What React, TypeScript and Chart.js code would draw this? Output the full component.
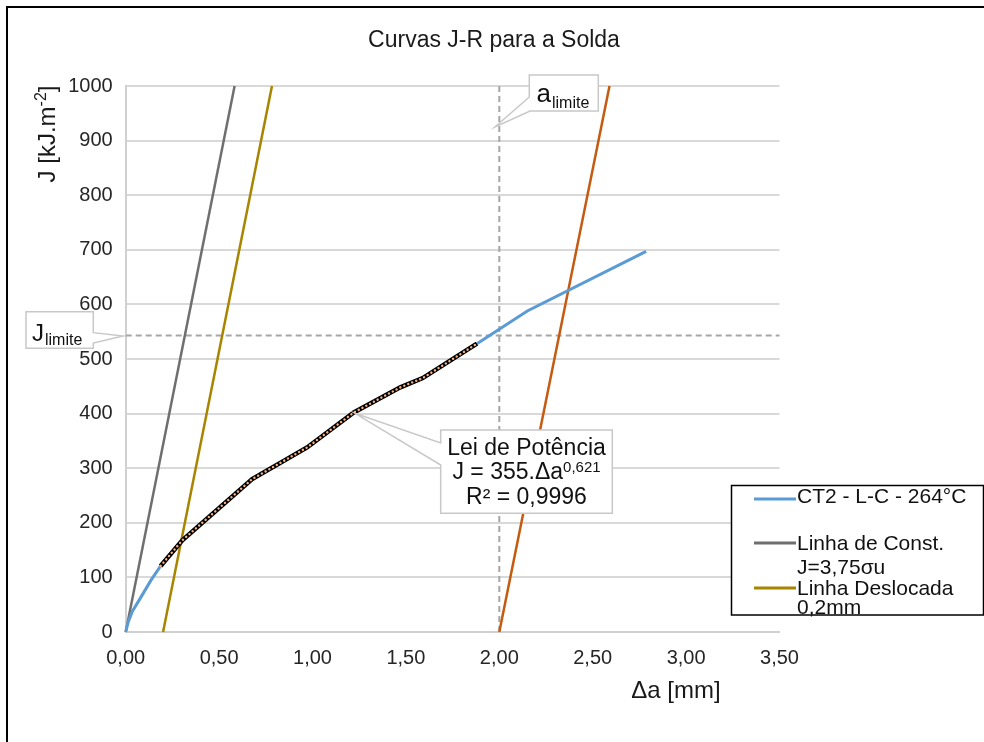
import { useEffect, useRef } from "react";
import { Chart, registerables } from "chart.js";

Chart.register(...registerables);

// ---- data ----
const blueA = [0, 0.014, 0.036, 0.08, 0.134, 0.187, 0.303, 0.677, 0.971, 1.221, 1.47, 1.59, 1.88, 2.15, 2.786];
const blueJ = [0, 19, 38, 63, 94, 121, 168, 280, 338, 402, 448, 465, 528, 588, 697];

const fitA = [0.187, 0.303, 0.677, 0.971, 1.221, 1.47, 1.59, 1.88];
const fitJ = [121, 168, 280, 338, 402, 448, 465, 528];

const constA = [0, 0.583];
const constJ = [0, 1000];
const offsetA = [0.2, 0.783];
const offsetJ = [0, 1000];
const limitLineA = [2.0, 2.59];
const limitLineJ = [0, 1000];

const jLimite = 543;
const aLimite = 2.0;
const xRange = [0, 3.5];
const yRange = [0, 1000];

const legendLabels = [["CT2 - L-C - 264°C"], ["Linha de Const.", "J=3,75σu"], ["Linha Deslocada", "0,2mm"]];

const FONT = '"Liberation Sans", Arial, sans-serif';
const f = (s: number) => `${s}px ${FONT}`;

const pts = (xs: number[], ys: number[]) => xs.map((x, i) => ({ x, y: ys[i] }));

const COLORS = {
  blue: "#5b9bd5",
  gray: "#6f6f6f",
  gold: "#a88400",
  orange: "#c55a11",
  dash: "#a6a6a6",
};

const overlay = {
  id: "overlay",
  afterDraw(chart: any) {
    const ctx: CanvasRenderingContext2D = chart.ctx;
    ctx.save();

    // outer frame (left & top visible)
    ctx.strokeStyle = "#000";
    ctx.lineWidth = 2;
    ctx.beginPath();
    ctx.moveTo(7, 742);
    ctx.lineTo(7, 7);
    ctx.lineTo(984, 7);
    ctx.stroke();

    ctx.fillStyle = "#1a1a1a";
    // title
    ctx.font = f(23);
    ctx.textAlign = "center";
    ctx.textBaseline = "alphabetic";
    ctx.fillText("Curvas J-R para a Solda", 494, 47);

    // x axis title
    ctx.font = f(24);
    ctx.fillText("Δa [mm]", 676, 698);

    // y axis title (rotated)
    {
      ctx.font = f(24);
      const p1 = "J [kJ.m";
      const w1 = ctx.measureText(p1).width;
      ctx.font = f(16);
      const p2 = "-2";
      const w2 = ctx.measureText(p2).width;
      ctx.font = f(24);
      const p3 = "]";
      const w3 = ctx.measureText(p3).width;
      const total = w1 + w2 + w3;
      ctx.save();
      ctx.translate(55, 134 + total / 2);
      ctx.rotate(-Math.PI / 2);
      ctx.textAlign = "left";
      ctx.font = f(24);
      ctx.fillText(p1, 0, 0);
      ctx.font = f(16);
      ctx.fillText(p2, w1, -9);
      ctx.font = f(24);
      ctx.fillText(p3, w1 + w2, 0);
      ctx.restore();
    }

    // callout helper
    const callout = (poly: number[][]) => {
      ctx.beginPath();
      poly.forEach(([x, y], i) => (i ? ctx.lineTo(x, y) : ctx.moveTo(x, y)));
      ctx.closePath();
      ctx.fillStyle = "#fff";
      ctx.fill();
      ctx.strokeStyle = "#c8c8c8";
      ctx.lineWidth = 1.5;
      ctx.stroke();
    };

    // Lei de Potência
    callout([
      [440.7, 430],
      [612.3, 430],
      [612.3, 513.3],
      [440.7, 513.3],
      [440.7, 465],
      [355, 413.3],
      [440.7, 443],
    ]);
    ctx.fillStyle = "#111";
    ctx.textAlign = "center";
    ctx.font = f(23);
    ctx.fillText("Lei de Potência", 526.5, 455);
    {
      ctx.font = f(23);
      const m = "J = 355.Δa";
      const wm = ctx.measureText(m).width;
      ctx.font = f(15);
      const s = "0,621";
      const ws = ctx.measureText(s).width;
      const x0 = 526.5 - (wm + ws) / 2;
      ctx.textAlign = "left";
      ctx.font = f(23);
      ctx.fillText(m, x0, 479);
      ctx.font = f(15);
      ctx.fillText(s, x0 + wm, 472);
    }
    ctx.textAlign = "center";
    ctx.font = f(23);
    ctx.fillText("R² = 0,9996", 526.5, 504);

    // a_limite
    callout([
      [529.3, 75],
      [598.3, 75],
      [598.3, 111],
      [530, 111],
      [495, 127],
      [529.3, 97],
    ]);
    ctx.fillStyle = "#111";
    ctx.textAlign = "left";
    ctx.font = f(26);
    ctx.fillText("a", 536.5, 102);
    const wa = ctx.measureText("a").width;
    ctx.font = f(16);
    ctx.fillText("limite", 536.5 + wa + 1, 108);

    // J_limite
    callout([
      [26, 311.7],
      [93.3, 311.7],
      [93.3, 332.7],
      [123, 336],
      [93.3, 343],
      [93.3, 348.3],
      [26, 348.3],
    ]);
    ctx.fillStyle = "#111";
    ctx.font = f(24);
    ctx.fillText("J", 32, 341);
    const wj = ctx.measureText("J").width;
    ctx.font = f(16);
    ctx.fillText("limite", 32 + wj + 1, 345);

    // legend
    ctx.fillStyle = "#fff";
    ctx.fillRect(731.5, 485.5, 252, 129.5);
    ctx.strokeStyle = "#000";
    ctx.lineWidth = 1.5;
    ctx.strokeRect(731.5, 485.5, 252, 129.5);
    const legendColors = [COLORS.blue, COLORS.gray, COLORS.gold];
    const sampleY = [499, 543, 588];
    const textY = [[503], [550, 574], [595, 614]];
    ctx.font = f(21);
    ctx.textAlign = "left";
    legendLabels.forEach((lines, i) => {
      ctx.strokeStyle = legendColors[i];
      ctx.lineWidth = 3;
      ctx.beginPath();
      ctx.moveTo(754, sampleY[i]);
      ctx.lineTo(796, sampleY[i]);
      ctx.stroke();
      ctx.fillStyle = "#111";
      lines.forEach((t, j) => ctx.fillText(t, 797, textY[i][j]));
    });

    ctx.restore();
  },
};

export default function App() {
  const ref = useRef<HTMLCanvasElement>(null);
  useEffect(() => {
    const base = { showLine: true, pointRadius: 0, tension: 0, clip: false as any, fill: false };
    const chart = new Chart(ref.current!, {
      type: "scatter",
      data: {
        datasets: [
          { ...base, label: "fitDots", data: pts(fitA, fitJ), borderColor: "#f4b183", borderWidth: 2.4, borderDash: [0.1, 4.2], borderCapStyle: "round", order: 0 },
          { ...base, label: "fit", data: pts(fitA, fitJ), borderColor: "#000", borderWidth: 4.5, order: 1 },
          { ...base, label: legendLabels[0][0], data: pts(blueA, blueJ), borderColor: COLORS.blue, borderWidth: 3, order: 2 },
          { ...base, label: "const", data: pts(constA, constJ), borderColor: COLORS.gray, borderWidth: 2.5, order: 3 },
          { ...base, label: "offset", data: pts(offsetA, offsetJ), borderColor: COLORS.gold, borderWidth: 2.5, order: 4 },
          { ...base, label: "limit", data: pts(limitLineA, limitLineJ), borderColor: COLORS.orange, borderWidth: 2.5, order: 5 },
          { ...base, label: "jlim", data: pts(xRange, [jLimite, jLimite]), borderColor: COLORS.dash, borderWidth: 2, borderDash: [6, 4], order: 6 },
          { ...base, label: "alim", data: pts([aLimite, aLimite], yRange), borderColor: COLORS.dash, borderWidth: 2, borderDash: [6, 4], order: 7 },
        ] as any,
      },
      options: {
        responsive: false,
        animation: false,
        devicePixelRatio: 1,
        layout: { padding: { left: 0, top: 86, right: 204.5, bottom: 0 } },
        plugins: { legend: { display: false }, title: { display: false }, tooltip: { enabled: false } },
        scales: {
          x: {
            type: "linear",
            min: xRange[0],
            max: xRange[1],
            ticks: {
              stepSize: 0.5,
              callback: (v: any) => Number(v).toFixed(2).replace(".", ","),
              font: { family: FONT, size: 20 },
              color: "#262626",
              padding: 14,
              maxRotation: 0,
              autoSkip: false,
            },
            grid: { display: true, color: "rgba(0,0,0,0)", drawTicks: false },
            border: { display: true, color: "#d0d0d0", width: 2 },
            afterFit: (s: any) => {
              s.height = 110;
            },
          },
          y: {
            type: "linear",
            min: yRange[0],
            max: yRange[1],
            ticks: {
              stepSize: 100,
              callback: (v: any) => String(v),
              font: { family: FONT, size: 20 },
              color: "#262626",
              padding: 13,
            },
            grid: { color: "#d9d9d9", lineWidth: 2, drawTicks: false },
            border: { display: true, color: "#d0d0d0", width: 2 },
            afterFit: (s: any) => {
              s.width = 125.7;
            },
          },
        },
      } as any,
      plugins: [overlay],
    });
    return () => chart.destroy();
  }, []);
  return (
    <div style={{ position: "fixed", left: 0, top: 0, width: 984, height: 742, background: "#fff" }}>
      <canvas ref={ref} width={984} height={742} style={{ display: "block" }} />
    </div>
  );
}
